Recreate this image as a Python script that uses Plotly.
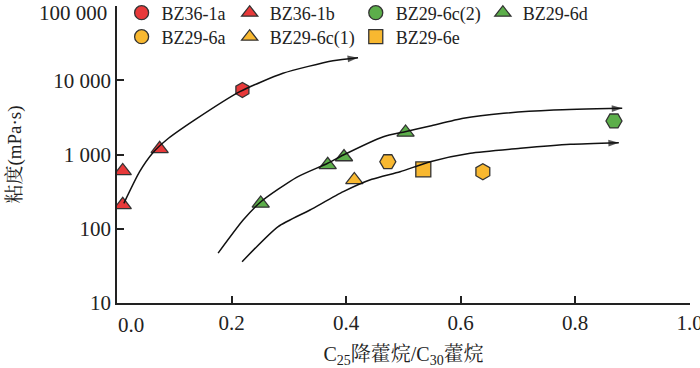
import plotly.graph_objects as go

# ---------------- data ----------------
# trend curves (C25 norhopane / C30 hopane  vs viscosity)
curve1_x = [0.012, 0.0395, 0.0623, 0.0863, 0.1358, 0.2145, 0.2898, 0.3772, 0.421]
curve1_y = [220, 586, 1047, 1567, 2917, 7015, 12420, 18330, 20140]

curve2_x = [0.1766, 0.2203, 0.2513, 0.3137, 0.368, 0.3953, 0.4653, 0.5032, 0.547, 0.6052, 0.6752, 0.7627, 0.8824]
curve2_y = [47, 131, 231, 493, 762, 984, 1738, 2028, 2421, 3076, 3589, 3972, 4190]

curve3_x = [0.2185, 0.2815, 0.337, 0.3953, 0.445, 0.4945, 0.547, 0.617, 0.7045, 0.792, 0.8765]
curve3_y = [36, 107, 179, 316, 463, 586, 800, 1038, 1211, 1371, 1442]

# sample points
bz36_1a_x = [0.219]
bz36_1a_y = [7400]
bz36_1b_x = [0.010, 0.010, 0.0745]
bz36_1b_y = [600, 210, 1190]
bz29_6a_x = [0.473, 0.639]
bz29_6a_y = [800, 586]
bz29_6c1_x = [0.4145]
bz29_6c1_y = [454]
bz29_6c2_x = [0.868]
bz29_6c2_y = [2830]
bz29_6d_x = [0.251, 0.368, 0.3965, 0.504]
bz29_6d_y = [219, 725, 925, 1980]
bz29_6e_x = [0.535]
bz29_6e_y = [630]

x_tick_vals = [0.2, 0.4, 0.6, 0.8, 1.0]
x_tick_text = ["0.2", "0.4", "0.6", "0.8", "1.0"]
y_tick_vals = [10, 100, 1000, 10000, 100000]
y_tick_text = ["10", "100", "1 000", "10 000", ""]

# ---------------- style ----------------
RED = "#e8393a"
YEL = "#f8b830"
GRN = "#5cae4a"
EDGE = "#333333"
SERIF = "Liberation Serif, Times New Roman, Noto Serif CJK SC, Noto Sans CJK SC, serif"

fig = go.Figure()

def pts(x, y, color, symbol, size):
    fig.add_trace(go.Scatter(
        x=x, y=y, mode="markers", showlegend=False, hoverinfo="skip",
        marker=dict(color=color, symbol=symbol, size=size,
                    line=dict(color=EDGE, width=1.3))))

pts(bz36_1a_x, bz36_1a_y, RED, "hexagon", 15)
pts(bz36_1b_x, bz36_1b_y, RED, "triangle-up", 15)
pts(bz29_6a_x, bz29_6a_y, YEL, ["hexagon2", "hexagon"], 16)
pts(bz29_6c1_x, bz29_6c1_y, YEL, "triangle-up", 15)
pts(bz29_6c2_x, bz29_6c2_y, GRN, "hexagon2", 16)
pts(bz29_6d_x, bz29_6d_y, GRN, "triangle-up", 15)
pts(bz29_6e_x, bz29_6e_y, YEL, "square", 15)

# trend curves with arrow heads
for cx, cy in [(curve1_x, curve1_y), (curve2_x, curve2_y), (curve3_x, curve3_y)]:
    n = len(cx)
    fig.add_trace(go.Scatter(
        x=cx, y=cy, mode="lines+markers", showlegend=False, hoverinfo="skip",
        line=dict(color="#111111", width=1.5, shape="spline", smoothing=0.6),
        marker=dict(symbol=["circle"] * (n - 1) + ["arrow"],
                    size=[0] * (n - 1) + [11],
                    angleref="previous", color="#111111",
                    line=dict(width=0))))

# legend entries (one legend per entry to place them in the 4+3 grid)
legend_items = [
    ("BZ36-1a", RED, "circle", "legend"),
    ("BZ36-1b", RED, "triangle-up", "legend2"),
    ("BZ29-6c(2)", GRN, "circle", "legend3"),
    ("BZ29-6d", GRN, "triangle-up", "legend4"),
    ("BZ29-6a", YEL, "circle", "legend5"),
    ("BZ29-6c(1)", YEL, "triangle-up", "legend6"),
    ("BZ29-6e", YEL, "square", "legend7"),
]
for name, col, sym, lg in legend_items:
    fig.add_trace(go.Scatter(
        x=[None], y=[None], mode="markers", name=name, legend=lg,
        marker=dict(color=col, symbol=sym, size=14,
                    line=dict(color=EDGE, width=1.3))))

# plot area geometry in pixels
L, R, T, B = 117.4, 690.0, 6.0, 303.0
W, H = 700, 368
def px_x(px):
    return (px - L) / (R - L)
def px_y(py):
    return (B - py) / (B - T)

leg_common = dict(bgcolor="rgba(0,0,0,0)", borderwidth=0,
                  font=dict(family=SERIF, size=18, color="#222"),
                  xanchor="left", yanchor="middle", orientation="v")
marker_cols = [142, 250, 376, 503]
row_y = [13, 37]
positions = [(marker_cols[0], row_y[0]), (marker_cols[1], row_y[0]),
             (marker_cols[2], row_y[0]), (marker_cols[3], row_y[0]),
             (marker_cols[0], row_y[1]), (marker_cols[1], row_y[1]),
             (marker_cols[2], row_y[1])]
legend_layout = {}
for i, (mx, my) in enumerate(positions):
    key = "legend" if i == 0 else f"legend{i + 1}"
    legend_layout[key] = dict(leg_common, x=px_x(mx - 20), y=px_y(my))

fig.update_layout(
    width=W, height=H,
    margin=dict(l=L, r=W - R, t=T, b=H - B, autoexpand=False),
    paper_bgcolor="white", plot_bgcolor="white",
    font=dict(family=SERIF, color="#222"),
    **legend_layout,
)

fig.update_xaxes(
    range=[0, 1.0008], tickvals=x_tick_vals, ticktext=x_tick_text,
    showline=True, linecolor="#222", linewidth=1.5,
    ticks="inside", ticklen=7, tickwidth=1.5, tickcolor="#222",
    showgrid=False, zeroline=False, ticklabeloverflow="allow",
    tickfont=dict(family=SERIF, size=21, color="#222"),
    title=dict(text="C<sub>25</sub>降藿烷/C<sub>30</sub>藿烷",
               font=dict(family=SERIF, size=20, color="#222"), standoff=14),
)
fig.update_yaxes(
    type="log", range=[1, 5], tickvals=y_tick_vals, ticktext=y_tick_text,
    showline=True, linecolor="#222", linewidth=1.5,
    ticks="inside", ticklen=7, tickwidth=1.5, tickcolor="#222",
    showgrid=False, zeroline=False,
    tickfont=dict(family=SERIF, size=21, color="#222"),
    title=dict(text="粘度(mPa·s)",
               font=dict(family=SERIF, size=19, color="#222"), standoff=27),
)

# labels that the reference offsets from their tick positions
fig.add_annotation(text="100 000", xref="paper", yref="paper", x=0, y=1,
                   xanchor="right", yanchor="middle", xshift=-8, yshift=-7,
                   showarrow=False, font=dict(family=SERIF, size=21, color="#222"))
fig.add_annotation(text="0.0", xref="x", yref="paper", x=0, y=0,
                   xanchor="center", yanchor="top", xshift=14, yshift=-8,
                   showarrow=False, font=dict(family=SERIF, size=21, color="#222"))

fig.write_html("out.html",
               config={"displayModeBar": False},
               post_script="document.body.style.margin='0';document.body.style.overflow='hidden';")
